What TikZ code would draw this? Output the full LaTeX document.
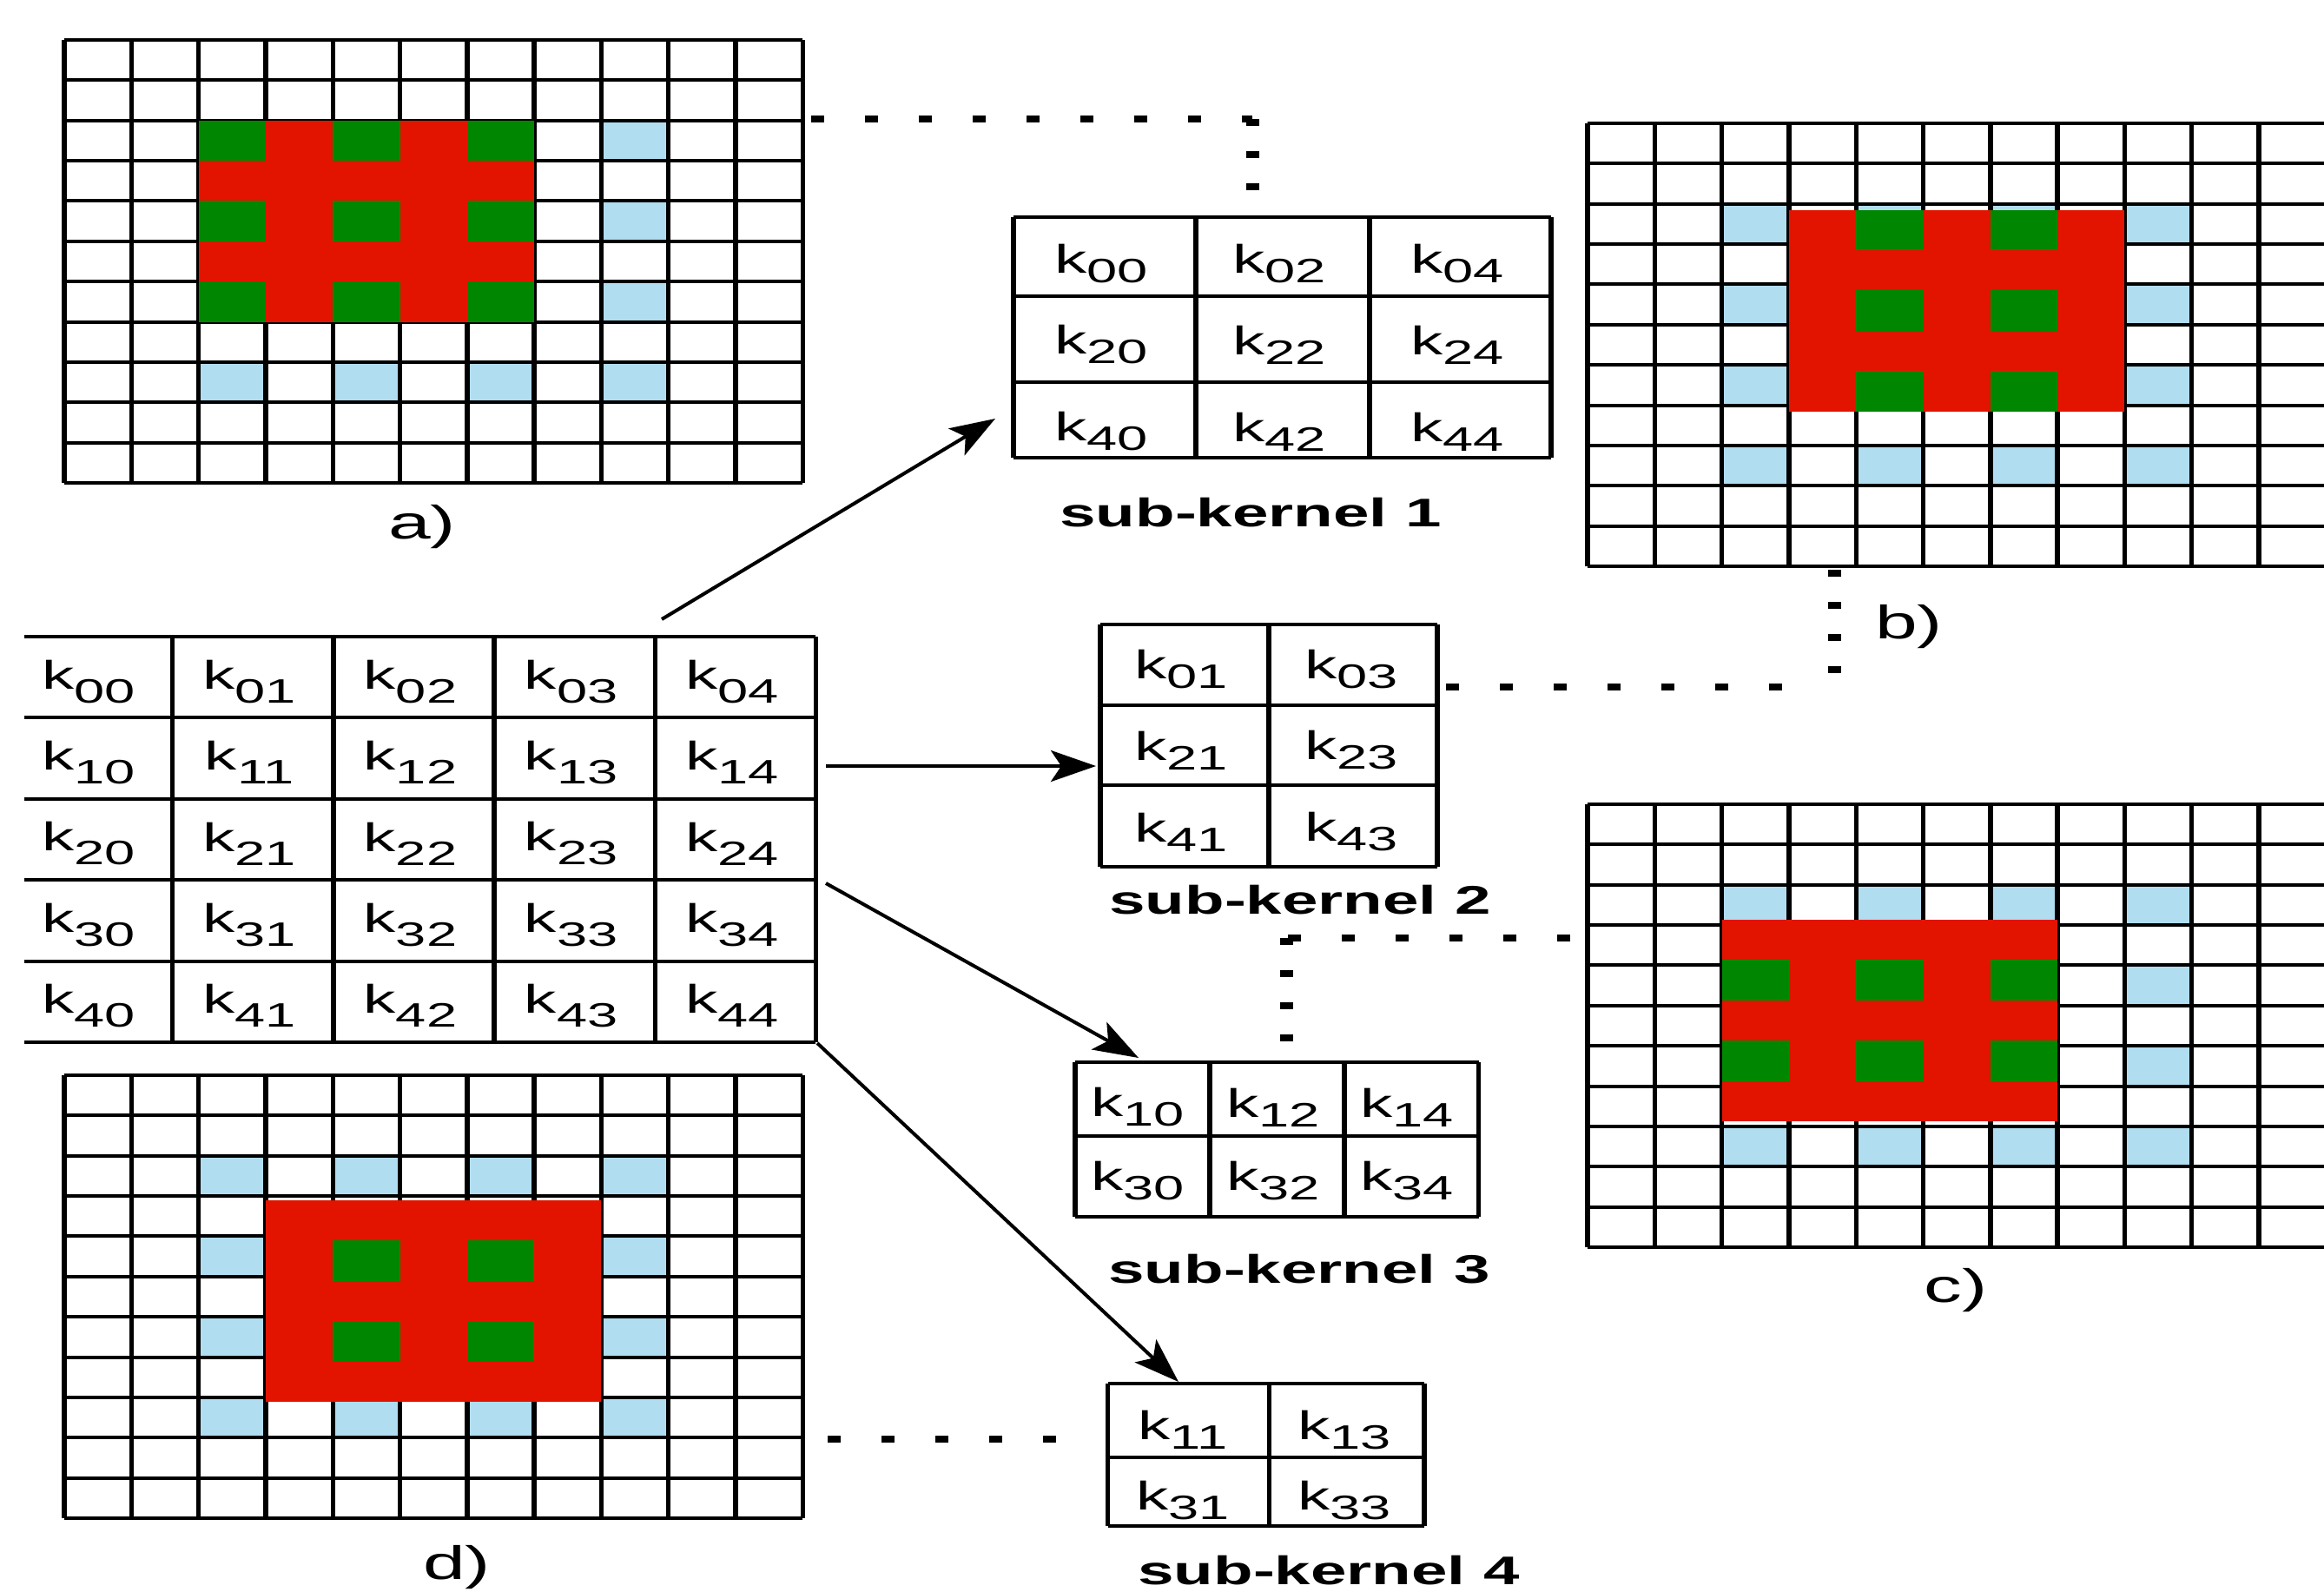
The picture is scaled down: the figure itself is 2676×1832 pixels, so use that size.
\documentclass[tikz,border=0pt]{standalone}
\usepackage{fontspec}
\setmainfont{Liberation Sans}[FakeStretch=1.62]
\usetikzlibrary{arrows.meta,positioning}

\definecolor{mapred}{RGB}{226,20,0}
\definecolor{mapgreen}{RGB}{0,134,0}
\definecolor{mapblue}{RGB}{176,221,239}

% kernel entry k_ij, optional argument = drop of the index
\newcommand{\kel}[2][16]{k\raisebox{-#1pt}{\fontsize{39}{40}\selectfont #2}}

% 11x11 feature map: #1,#2 corner, #3,#4 first red cell, #5 green cols, #6 green rows, #7 shift of the red block
\newcommand{\featuremap}[7]{%
  \begin{scope}[shift={(#1,#2)}, x=77.3pt, y=-46.36pt]
    \fill[white] (0,0) rectangle (11,11);
    \foreach \i in {2,4,6,8}
      \foreach \j in {2,4,6,8}
        \fill[mapblue] (\i,\j) rectangle +(1,1);
    \foreach \i in {0,...,11}
      \draw[vline] (\i,0) -- (\i,11);
    \foreach \j in {0,...,11}
      \draw[hline] (0,\j) -- (11,\j);
    \begin{scope}[yshift=#7]
      \fill[mapred] (#3,#4) rectangle +(5,5);
      \foreach \i in {#5}
        \foreach \j in {#6}
          \fill[mapgreen] (#3+\i,#4+\j) rectangle +(1,1);
    \end{scope}
  \end{scope}}

\begin{document}
\begin{tikzpicture}[
  x=1pt, y=-1pt,
  every node/.style={font=\fontsize{46}{50}\selectfont, inner sep=0pt},
  vline/.style={line width=5.4pt},
  hline/.style={line width=4pt},
  hdots/.style={line width=8pt, dash pattern=on 15pt off 47pt},
  vdots/.style={line width=15pt, dash pattern=on 8pt off 29pt},
  arr/.style={line width=4pt, -{Stealth[length=52pt, width=36pt, inset=12pt]}},
  sublabel/.style={font=\fontsize{46}{50}\selectfont\bfseries, anchor=base},
  maplabel/.style={font=\fontsize{54}{58}\selectfont, anchor=base}
]
  \useasboundingbox (0,0) rectangle (2676,1832);
  \fill[white] (0,0) rectangle (2676,1832);

  % the four dilated feature maps
  \featuremap{74}{46}{2}{2}{0,2,4}{0,2,4}{0pt}
  \featuremap{1828}{142}{3}{2}{1,3}{0,2,4}{-7pt}
  \featuremap{1828}{926}{2}{3}{0,2,4}{1,3}{6pt}
  \featuremap{74}{1238}{3}{3}{1,3}{1,3}{-5pt}

  \node[maplabel] (alab) at (486,620)  {a)};
  \node[maplabel] (blab) at (2198,735) {b)};
  \node[maplabel] (clab) at (2252,1499) {c)};
  \node[maplabel] (dlab) at (526,1818) {d)};

  % full 5x5 kernel
  \begin{scope}[shift={(13.4,733)}, x=185.2pt, y=-93.4pt]
    \foreach \j in {0,...,5}
      \draw[hline] (0.079,\j) -- (5,\j);
    \foreach \i in {1,...,5}
      \draw[vline] (\i,0) -- (\i,5);
    \foreach \j in {0,...,4}
      \foreach \i in {0,...,4}
        \node[xshift=-4pt, yshift=-5pt] (m\j\i) at (\i+0.5,\j+0.5) {\kel{\j\i}};
  \end{scope}

  % sub-kernel 1
  \foreach \x in {1167,1377,1577,1786}
    \draw[vline] (\x,250) -- (\x,527);
  \foreach \y in {250,341,440,527}
    \draw[hline] (1167,\y) -- (1786,\y);
  \foreach \y/\r in {304/0,397/2,497/4}
    \foreach \x/\c in {1268/0,1473/2,1678/4}
      \node (s1-\r\c) at (\x,\y) {\kel[11]{\r\c}};
  \node[sublabel] (sk1lab) at (1440,606) {sub-kernel 1};

  % sub-kernel 2
  \foreach \x in {1267,1461,1655}
    \draw[vline] (\x,718.6) -- (\x,998.4);
  \foreach \y in {718.6,811.6,904.4,998.4}
    \draw[hline] (1267,\y) -- (1655,\y);
  \foreach \y/\r in {771/0,864/2,958/4}
    \foreach \x/\c in {1360/1,1556/3}
      \node (s2-\r\c) at (\x,\y) {\kel[11]{\r\c}};
  \node[sublabel] (sk2lab) at (1497,1052) {sub-kernel 2};

  % sub-kernel 3
  \foreach \x in {1238,1393,1548,1702.5}
    \draw[vline] (\x,1223) -- (\x,1401);
  \foreach \y in {1223,1307.7,1401}
    \draw[hline] (1238,\y) -- (1702.5,\y);
  \foreach \y/\r in {1275/1,1360/3}
    \foreach \x/\c in {1310/0,1466/2,1620/4}
      \node (s3-\r\c) at (\x,\y) {\kel[11]{\r\c}};
  \node[sublabel] (sk3lab) at (1496,1477) {sub-kernel 3};

  % sub-kernel 4
  \foreach \x in {1275.7,1461.4,1640}
    \draw[vline] (\x,1593) -- (\x,1757);
  \foreach \y in {1593,1678,1757}
    \draw[hline] (1275.7,\y) -- (1640,\y);
  \foreach \y/\r in {1646/1,1727/3}
    \foreach \x/\c in {1362/1,1548/3}
      \node (s4-\r\c) at (\x,\y) {\kel[11]{\r\c}};
  \node[sublabel] (sk4lab) at (1530,1824) {sub-kernel 4};

  % arrows from the kernel
  \coordinate (src1) at (762,713);   \coordinate (tip1) at (1146,482);
  \coordinate (src2) at (951,882);   \coordinate (tip2) at (1262,882);
  \coordinate (src3) at (951,1017);  \coordinate (tip3) at (1311,1218);
  \coordinate (src4) at (941,1201);  \coordinate (tip4) at (1357,1591);
  \draw[arr] (src1) -- (tip1);
  \draw[arr] (src2) -- (tip2);
  \draw[arr] (src3) -- (tip3);
  \draw[arr] (src4) -- (tip4);

  % dotted links between maps and sub-kernels
  \coordinate (a-out) at (934,137);   \coordinate (sk1-in) at (1442,250);
  \draw[hdots] (a-out) -- (a-out -| sk1-in);
  \draw[vdots] (a-out -| sk1-in) -- (sk1-in);

  \coordinate (b-out) at (2112,656);  \coordinate (b-bend) at (2052,791);
  \coordinate (sk2-in) at (1660,791);
  \draw[vdots] (b-out) -- (b-out |- b-bend);
  \draw[hdots] (b-bend) -- (sk2-in);

  \coordinate (c-out) at (1808,1080); \coordinate (sk3-in) at (1481,1222);
  \draw[hdots] (c-out) -- (c-out -| sk3-in);
  \draw[vdots] (c-out -| sk3-in) -- (sk3-in);

  \coordinate (d-out) at (953,1657);  \coordinate (sk4-in) at (1222,1657);
  \draw[hdots] (d-out) -- (sk4-in);
\end{tikzpicture}
\end{document}
